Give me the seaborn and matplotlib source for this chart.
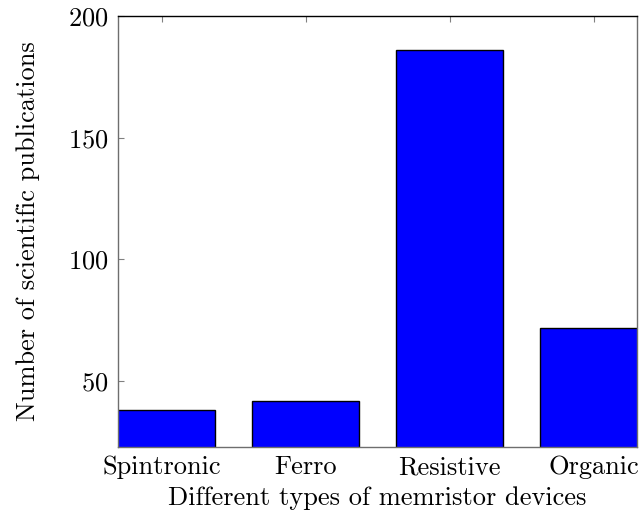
"""Bar chart of publications per memristor device type."""

import matplotlib.pyplot as plt
import seaborn as sns
import pandas as pd

devices = ['Spintronic', 'Ferro', 'Resistive', 'Organic']
publications = [38, 42, 186, 72]

sns.set_style('white')
plt.rcParams['font.family'] = ['cmr10', 'DejaVu Serif']
plt.rcParams['axes.formatter.use_mathtext'] = True
plt.rcParams['mathtext.fontset'] = 'cm'
plt.rcParams['text.color'] = 'black'
plt.rcParams['axes.labelcolor'] = 'black'
plt.rcParams['xtick.labelcolor'] = 'black'
plt.rcParams['ytick.labelcolor'] = 'black'

df = pd.DataFrame({'device': devices, 'count': publications})

fig = plt.figure(figsize=(6.4, 5.18), dpi=100)
ax = fig.add_axes([0.184, 0.137, 0.811, 0.832])

sns.barplot(data=df, x='device', y='count', color='#0000ff', saturation=1,
            edgecolor='black', linewidth=1.0, width=0.74, ax=ax)

ax.set_xlim(-0.306, 3.30)
ax.set_ylim(22.9, 200)
ax.set_yticks([50, 100, 150, 200])

ax.set_xlabel('Different types of memristor devices', fontsize=19, labelpad=5)
ax.set_ylabel('Number of scientific publications', fontsize=19, labelpad=20)

ax.tick_params(axis='both', direction='in', length=4, width=0.8,
               color='#808080', labelsize=19, top=True, bottom=True, left=True)
ax.tick_params(axis='x', pad=6)
ax.tick_params(axis='y', pad=7)

for side in ['left', 'right', 'bottom']:
    ax.spines[side].set_color('#6e6e6e')
ax.spines['top'].set_color('black')
for s in ax.spines.values():
    s.set_linewidth(1.0)

plt.savefig('out.png', dpi=100)
